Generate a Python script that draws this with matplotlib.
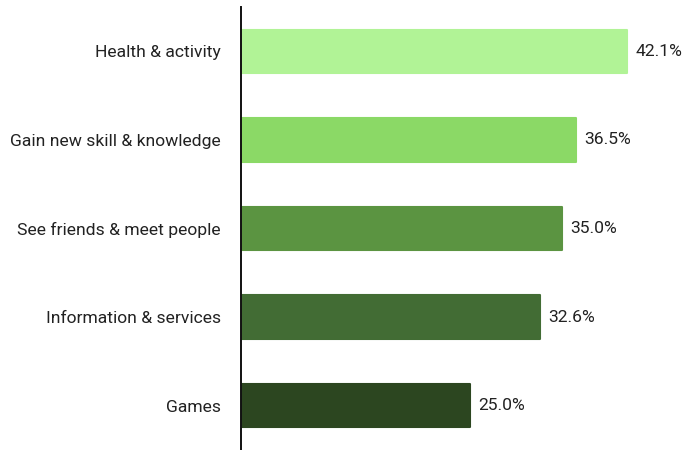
import matplotlib
matplotlib.use("Agg")
import matplotlib.pyplot as plt

categories = ["Health & activity", "Gain new skill & knowledge", "See friends & meet people",
              "Information & services", "Games"]
values = [42.1, 36.5, 35.0, 32.6, 25.0]
colors = ["#b1f396", "#8bd966", "#5b9441", "#426c34", "#2c4620"]

plt.rcParams['font.family'] = ['Roboto', 'DejaVu Sans']

fig = plt.figure(figsize=(6.85, 4.5), dpi=100)
ax = fig.add_axes([241/685, 0, 444/685, 443/450])

y = list(range(len(categories)))
bars = ax.barh(y, values, height=0.49, color=colors, edgecolor=colors, linewidth=1.5)
for b in bars:
    b.set_joinstyle('round')

for yi, v in zip(y, values):
    ax.text(v + 0.9, yi, f"{v:.1f}%", va='center', ha='left', fontsize=12.6, color='#222222')

ax.set_yticks(y)
ax.set_yticklabels(categories, fontsize=12.6, color='#222222')
ax.tick_params(axis='y', length=0, pad=14.4)
ax.set_xticks([])
ax.set_xlim(0, 48.4)
ax.set_ylim(4.5, -0.5)
for s in ['top', 'right', 'bottom']:
    ax.spines[s].set_visible(False)
ax.spines['left'].set_linewidth(1.4)
ax.spines['left'].set_color('#111111')

fig.savefig("out.png", dpi=100)
